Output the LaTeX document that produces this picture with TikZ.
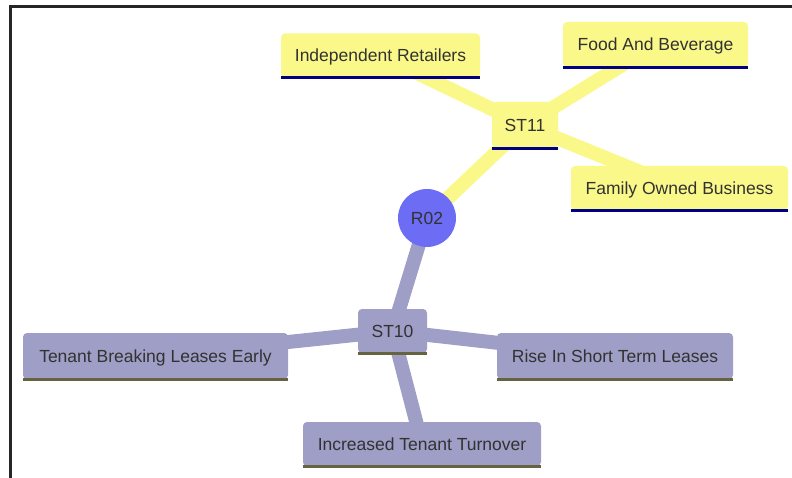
\documentclass[tikz,border=0pt]{standalone}
\usepackage{fontspec}
\setmainfont{Liberation Sans}
\usetikzlibrary{backgrounds}
\definecolor{ylw}{RGB}{250,248,136}
\definecolor{navyline}{RGB}{0,0,128}
\definecolor{lav}{RGB}{158,158,198}
\definecolor{oliveline}{RGB}{102,100,64}
\definecolor{rootblue}{RGB}{108,108,244}
\definecolor{txt}{RGB}{50,50,50}
\tikzset{
  base/.style={rectangle, rounded corners=4pt, inner sep=0pt, text=txt,
    text height=12.5pt, text depth=0pt,
    font=\fontsize{17.5}{20}\selectfont},
  ybox/.style={base, fill=ylw},
  gbox/.style={base, fill=lav},
  yedge/.style={draw=ylw, line width=14pt},
  gedge/.style={draw=lav, line width=14pt},
  yul/.style={draw=navyline, line width=3pt},
  gul/.style={draw=oliveline, line width=3pt},
  rootnode/.style={circle, fill=rootblue, minimum size=58pt, inner sep=0pt, text=txt,
    text height=12.5pt, text depth=0pt,
    font=\fontsize{17.5}{20}\selectfont}
}
\begin{document}
\begin{tikzpicture}[x=1pt,y=-1pt]
\useasboundingbox (0,0) rectangle (792,478);
\draw[line width=3pt, black!85] (10,478) -- (10,7) -- (792,7);

\node[rootnode] (r02) at (427,218) {R02};
\node[ybox, minimum width=66pt, minimum height=46pt] (st11) at (525,125) {ST11};
\node[ybox, minimum width=199pt, minimum height=44pt] (indep) at (380.5,55.5) {Independent Retailers};
\node[ybox, minimum width=185pt, minimum height=45pt] (food) at (655.5,44.5) {Food And Beverage};
\node[ybox, minimum width=217pt, minimum height=44pt] (family) at (679.5,188) {Family Owned Business};
\node[gbox, minimum width=69pt, minimum height=44pt] (st10) at (392.5,331) {ST10};
\node[gbox, minimum width=265pt, minimum height=46pt] (tenant) at (155.5,356) {Tenant Breaking Leases Early};
\node[gbox, minimum width=236pt, minimum height=46pt] (rise) at (615,356) {Rise In Short Term Leases};
\node[gbox, minimum width=238pt, minimum height=44pt] (incr) at (422,444) {Increased Tenant Turnover};

\foreach \n in {st11,indep,food,family}
  \draw[yul] (\n.south west) -- (\n.south east);
\foreach \n in {st10,tenant,rise,incr}
  \draw[gul] (\n.south west) -- (\n.south east);

\begin{scope}[on background layer]
  \draw[yedge] (r02.center) -- (st11.center);
  \draw[yedge] (st11.center) -- (indep.center);
  \draw[yedge] (st11.center) -- (food.center);
  \draw[yedge] (st11.center) -- (family.center);
  \draw[gedge] (r02.center) -- (st10.center);
  \draw[gedge] (st10.center) -- (tenant.center);
  \draw[gedge] (st10.center) -- (rise.center);
  \draw[gedge] (st10.center) -- (incr.center);
\end{scope}
\end{tikzpicture}
\end{document}
